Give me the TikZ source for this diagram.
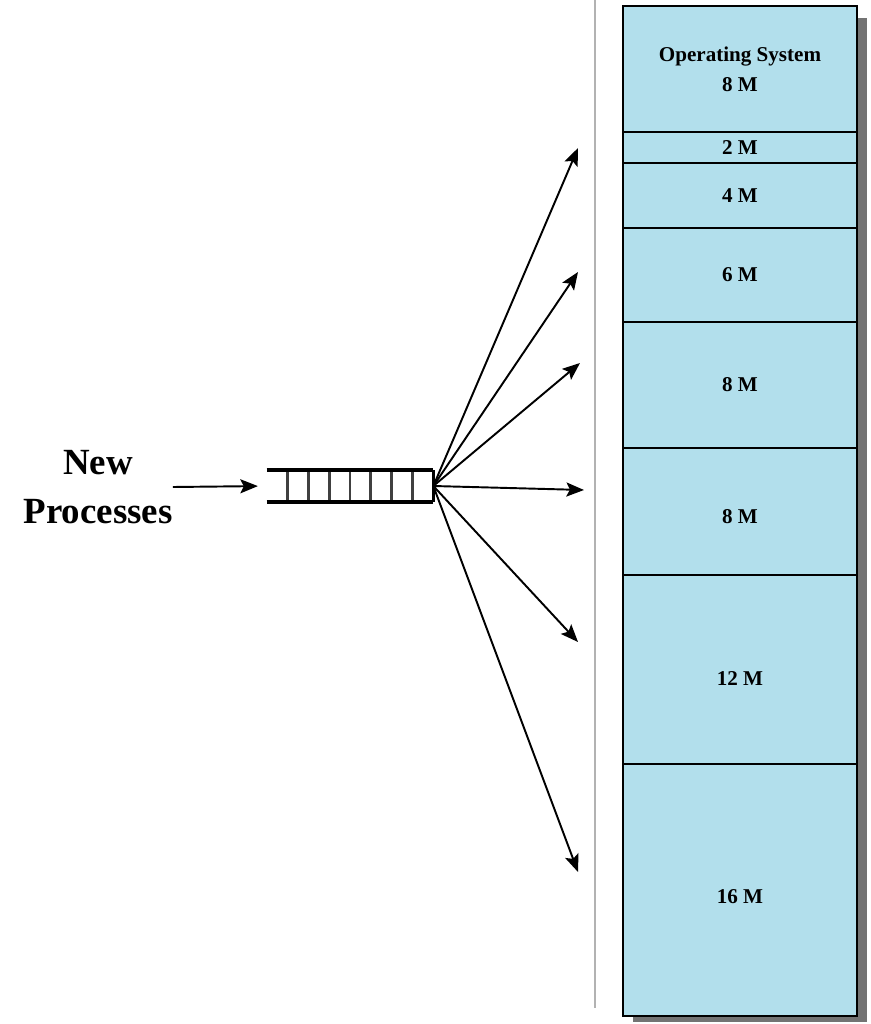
\documentclass[tikz,border=0pt]{standalone}
\usepackage{xcolor}
\usepackage{fontspec}
\setmainfont{Liberation Serif}
\usepackage{tikz}
\usetikzlibrary{positioning,arrows.meta,calc}

\definecolor{membg}{RGB}{178,223,236}
\newcommand{\lowlabel}[2]{\raisebox{-#1}[0pt][0pt]{#2}}

\begin{document}
\begin{tikzpicture}[x=0.02cm,y=-0.02cm,
                partnode/.style={rectangle, draw=black, fill=membg, line width=1.1pt, outer sep=0pt, minimum width=4.68cm, font=\fontsize{12}{15}\selectfont\bfseries, align=center, inner sep=0pt},
                labelnode/.style={align=center, inner sep=0pt, font=\fontsize{21}{28}\selectfont\bfseries},
                arrow/.style={line width=1.1pt,-{Stealth[length=10pt,width=8pt,inset=2pt]}}
                ]
                \useasboundingbox (0,0) rectangle (871,1024);
                \draw[gray!60, line width=0.6pt] (595,0) -- (595,1008);
                % memory shadow
                \fill[gray!90!black] (633,18) rectangle (867,1022);
                \node[partnode, minimum height=2.52cm] (os) at (740,69) {Operating System\\[2pt]8 M};
                \node[partnode, minimum height=0.62cm] (p2) [below=0pt of os] {2 M};
                \node[partnode, minimum height=1.30cm] (p4) [below=0pt of p2] {4 M};
                \node[partnode, minimum height=1.88cm] (p6) [below=0pt of p4] {6 M};
                \node[partnode, minimum height=2.52cm] (p8a) [below=0pt of p6] {8 M};
                \node[partnode, minimum height=2.54cm] (p8b) [below=0pt of p8a] {\lowlabel{7pt}{8 M}};
                \node[partnode, minimum height=3.78cm] (p12) [below=0pt of p8b] {\lowlabel{9pt}{12 M}};
                \node[partnode, minimum height=5.04cm] (p16) [below=0pt of p12] {\lowlabel{8pt}{16 M}};
                % queue
                \node[labelnode] (newproc) at (98,487) {New\\Processes};
                \node[minimum width=3.32cm, minimum height=0.62cm, inner sep=0pt] (queue) at (350,486) {};
                \foreach \i in {1,...,7}
                    \draw[gray!50!black, line width=1.6pt] ($(queue.north west)!\i/8!(queue.north east)$) -- ($(queue.south west)!\i/8!(queue.south east)$);
                \draw[line width=2.3pt] (queue.north west) -- (queue.north east);
                \draw[line width=2.3pt] (queue.south west) -- (queue.south east);
                \draw[line width=1.4pt] (queue.north east) -- (queue.south east);
                \draw[arrow, shorten >=5pt] (newproc.east) -- (queue.west);
                % placement arrows
                \coordinate (t1) at (578,148);
                \coordinate (t2) at (578,272);
                \coordinate (t3) at (580,363);
                \coordinate (t4) at (584,490);
                \coordinate (t5) at (578,642);
                \coordinate (t6) at (578,872);
                \foreach \t in {t1,t2,t3,t4,t5,t6}
                    \draw[arrow] (queue.east) -- (\t);
            \end{tikzpicture}
\end{document}
